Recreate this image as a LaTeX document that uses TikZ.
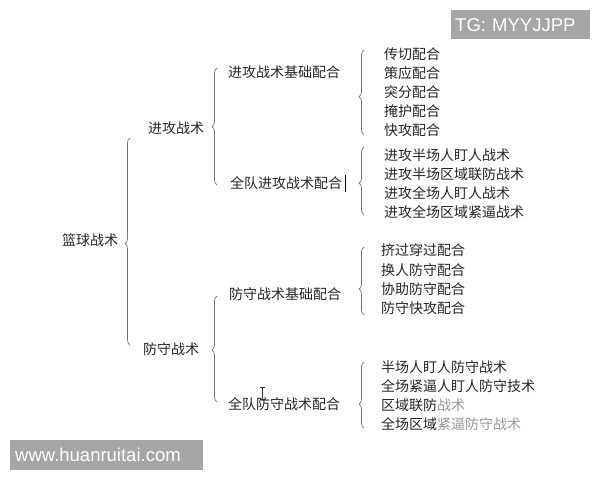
\documentclass[tikz,border=0pt]{standalone}
\usepackage{fontspec}
\newfontfamily\cjk{Noto Sans CJK SC}
\setsansfont{Liberation Sans}
\usetikzlibrary{decorations.pathreplacing}
\definecolor{wm}{HTML}{A6A6A6}
\begin{document}
\begin{tikzpicture}[x=1pt,y=-1pt,
  lbl/.style={anchor=west, inner sep=0pt, font=\cjk\fontsize{14}{14}\selectfont, text=black!85},
  br/.style={draw=black!55, line width=0.7pt, decorate, decoration={brace, amplitude=5pt, aspect=#1}},
  wmbox/.style={fill=wm, text=white, anchor=north west, inner ysep=0pt, align=left, font=\sffamily\fontsize{18.5}{19}\selectfont}]
\useasboundingbox (0,0) rectangle (600,480);
\fill[white] (0,0) rectangle (600,480);

% level 0
\node[lbl] (root) at (62,240) {篮球战术};
% level 1
\node[lbl] (att) at (148,128) {进攻战术};
\node[lbl] (def) at (143,349) {防守战术};
% level 2
\node[lbl] (attbase) at (228,72) {进攻战术基础配合};
\node[lbl] (attteam) at (230,183) {全队进攻战术配合};
\node[lbl] (defbase) at (229,294) {防守战术基础配合};
\node[lbl] (defteam) at (228,404) {全队防守战术配合};
% level 3
\node[lbl] (a1) at (384,54) {传切配合};
\node[lbl] (a2) at (384,73) {策应配合};
\node[lbl] (a3) at (384,92) {突分配合};
\node[lbl] (a4) at (384,111) {掩护配合};
\node[lbl] (a5) at (384,130) {快攻配合};
\node[lbl] (b1) at (384,155) {进攻半场人盯人战术};
\node[lbl] (b2) at (384,174) {进攻半场区域联防战术};
\node[lbl] (b3) at (384,193) {进攻全场人盯人战术};
\node[lbl] (b4) at (384,212) {进攻全场区域紧逼战术};
\node[lbl] (c1) at (381,250) {挤过穿过配合};
\node[lbl] (c2) at (381,270) {换人防守配合};
\node[lbl] (c3) at (381,289) {协助防守配合};
\node[lbl] (c4) at (381,308) {防守快攻配合};
\node[lbl] (d1) at (381,367) {半场人盯人防守战术};
\node[lbl] (d2) at (381,386) {全场紧逼人盯人防守技术};
\node[lbl] (d3) at (381,405) {区域联防\textcolor{black!40}{战术}};
\node[lbl] (d4) at (381,424) {全场区域\textcolor{black!40}{紧逼防守战术}};

% braces
\draw[br=0.49] (130,345) -- (130,138);
\draw[br=0.50] (217,185) -- (217,68);
\draw[br=0.49] (217,402) -- (217,296);
\draw[br=0.45] (364,135) -- (364,50);
\draw[br=0.47] (364,215) -- (364,147);
\draw[br=0.38] (364,315) -- (364,247);
\draw[br=0.36] (364,428) -- (364,362);

% text cursors
\draw[black, line width=1pt] (345.5,175) -- (345.5,192);
\draw[black!80, line width=0.7pt] (262,387) -- (262,399) (259.5,387) -- (264.5,387) (259.5,399) -- (264.5,399);

% watermarks
\node[wmbox, inner xsep=4pt, text width=131pt, minimum height=29pt] (tg) at (451,10) {TG: MYYJJPP};
\node[wmbox, inner xsep=5pt, text width=183pt, minimum height=30pt] (www) at (10,440) {www.huanruitai.com};
\end{tikzpicture}
\end{document}
